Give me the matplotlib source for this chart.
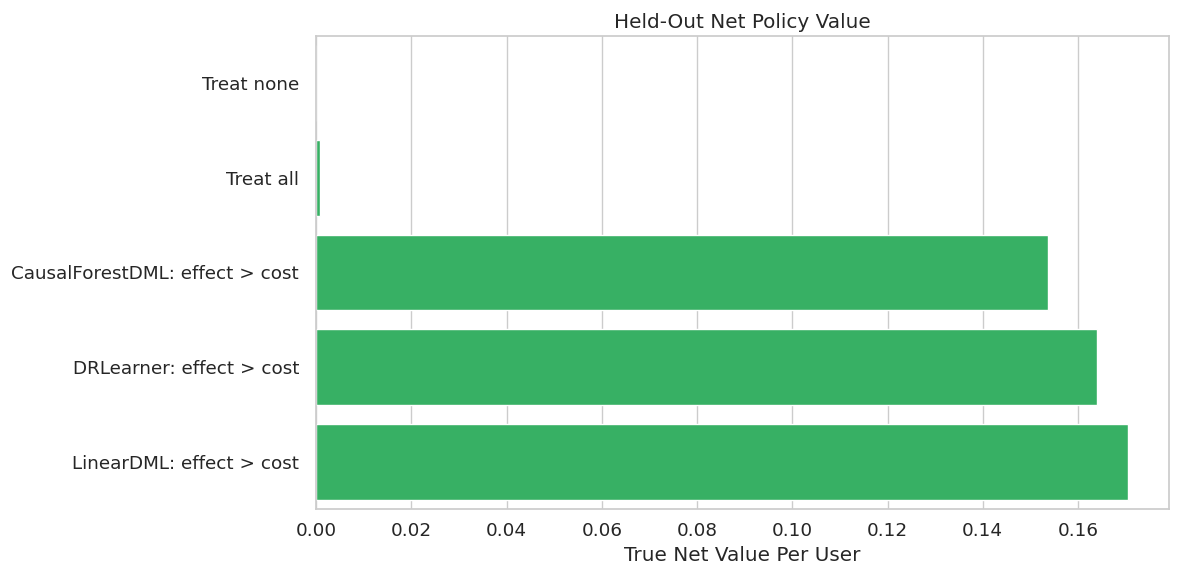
import matplotlib
matplotlib.use("Agg")
import matplotlib.pyplot as plt
import seaborn as sns

policies = ["Treat none", "Treat all", "CausalForestDML: effect > cost",
            "DRLearner: effect > cost", "LinearDML: effect > cost"]
net_values = [0.0, 0.0008, 0.1537, 0.1639, 0.1706]

sns.set_theme(style="whitegrid", font_scale=1.2)
fig = plt.figure(figsize=(11.8, 5.8), dpi=100)
ax = fig.add_axes([0.268, 0.1224, 0.7227, 0.8156])
sns.barplot(x=net_values, y=policies, orient="h", color="#37b064",
            saturation=1, ax=ax)
ax.set_title("Held-Out Net Policy Value")
ax.set_xlabel("True Net Value Per User")
ax.set_ylabel("")
ax.tick_params(axis="y", pad=6.4)
fig.savefig("out.png", dpi=100)
